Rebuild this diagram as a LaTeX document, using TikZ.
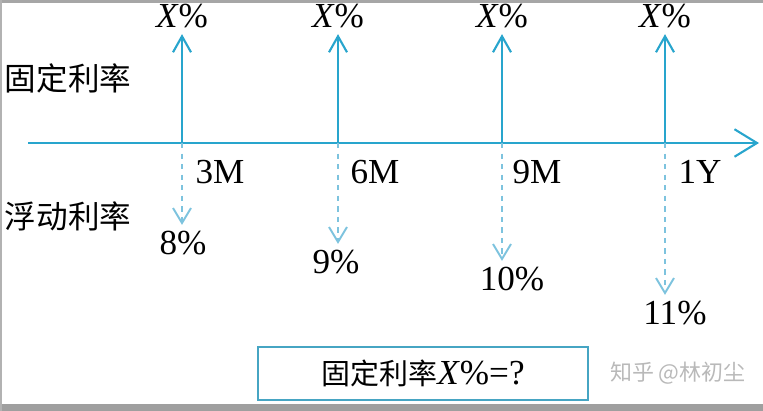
\documentclass[tikz,border=0pt]{standalone}
\usepackage{fontspec}
\setmainfont{Liberation Serif}
\newfontfamily\cjk{Noto Sans CJK SC}
\usepackage{tikz}
\usetikzlibrary{arrows.meta,positioning}
\definecolor{lineblue}{RGB}{40,165,205}
\definecolor{dashblue}{RGB}{125,195,222}
\definecolor{boxblue}{RGB}{70,165,195}

\begin{document}
\begin{tikzpicture}[x=0.02cm, y=-0.02cm,
	axis/.style={lineblue, line width=1.2pt, -{Straight Barb[length=0.45cm, width=0.55cm]}},
	upline/.style={lineblue, line width=1.2pt, -{Straight Barb[length=0.32cm, width=0.36cm]}},
	downline/.style={dashblue, line width=1.1pt, dash pattern=on 3pt off 3pt, -{Straight Barb[length=0.3cm, width=0.36cm]}},
	num/.style={font=\fontsize{20}{24}\selectfont},
	cn/.style={font=\cjk\fontsize{18}{22}\selectfont}]
	\useasboundingbox (0,0) rectangle (763,411);
	\fill[gray!70] (0,0) rectangle (763,3);
	\fill[gray!75] (0,404) rectangle (763,411);
	\fill[gray!60] (0,0) rectangle (2,411);

	\coordinate (start) at (28,143);
	\coordinate (end) at (759,143);
	\coordinate (t1) at (182,143);
	\coordinate (t2) at (338,143);
	\coordinate (t3) at (502,143);
	\coordinate (t4) at (665,143);
	\draw[axis] (start) -- (end);

	\node (fix) [cn] at (68,78) {固定利率};
	\node (float) [cn] at (68,216) {浮动利率};

	% fixed leg
	\node (x1) [num] at (182,16) {\textit{X}\%};
	\node (x2) [num] at (338,16) {\textit{X}\%};
	\node (x3) [num] at (502,16) {\textit{X}\%};
	\node (x4) [num] at (665,16) {\textit{X}\%};
	\draw[upline] (t1) -- (x1);
	\draw[upline] (t2) -- (x2);
	\draw[upline] (t3) -- (x3);
	\draw[upline] (t4) -- (x4);

	\node (m1) [num] at (220,172) {3M};
	\node (m2) [num] at (375,172) {6M};
	\node (m3) [num] at (537,172) {9M};
	\node (m4) [num] at (700,172) {1Y};

	% floating leg
	\node (p1) [num] at (183,243) {8\%};
	\node (p2) [num] at (336,262) {9\%};
	\node (p3) [num] at (512,279) {10\%};
	\node (p4) [num] at (675,313) {11\%};
	\draw[downline] (t1) -- (t1 |- p1.north);
	\draw[downline] (t2) -- (t2 |- p2.north);
	\draw[downline] (t3) -- (t3 |- p3.north);
	\draw[downline] (t4) -- (t4 |- p4.north);

	\node (ask) [draw=boxblue, line width=1.1pt, minimum width=6.6cm, minimum height=1.06cm, num] at (423,373.5)
		{{\cjk\fontsize{16.5}{19}\selectfont 固定利率}\textit{X}\%=?};
	\node (mark) [right=0.3cm of ask, text=gray!55, font=\cjk\fontsize{12.5}{15}\selectfont] {知乎 @林初尘};
\end{tikzpicture}
\end{document}
